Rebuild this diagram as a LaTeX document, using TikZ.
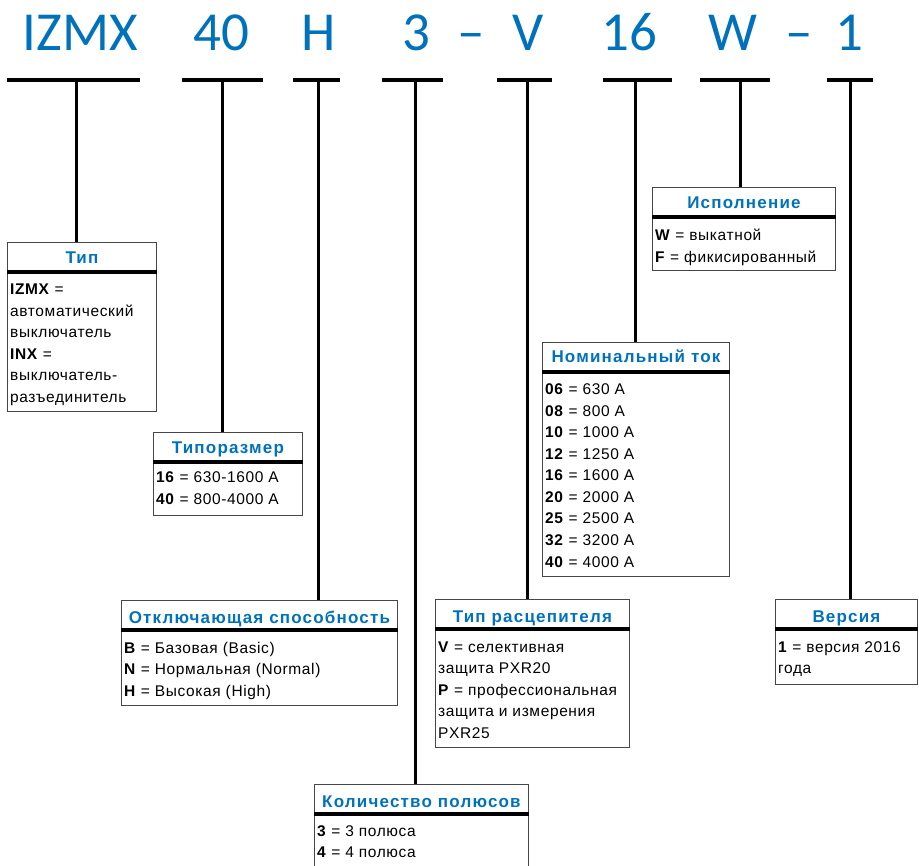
\documentclass[tikz,border=0pt]{standalone}
\usepackage{fontspec}
\setmainfont{Liberation Sans}
\newfontfamily\hdrfont{Carlito}
\newfontfamily\bodyfont[LetterSpace=4]{Liberation Sans}
\newfontfamily\titlefont[LetterSpace=7]{Liberation Sans Bold}
\definecolor{eblue}{RGB}{0,114,188}
\definecolor{boxgray}{RGB}{70,70,70}
\tikzset{
  hdrtxt/.style={font=\hdrfont\fontsize{55}{55}\selectfont, text=eblue, anchor=base, inner sep=0pt},
  bar/.style={line width=4pt},
  conn/.style={line width=3pt},
  box/.style={draw=boxgray, line width=0.9pt, anchor=north west, inner sep=0pt},
  sepline/.style={line width=4.5pt},
  ttl/.style={font=\titlefont\fontsize{17}{17}\selectfont, text=eblue, anchor=base, inner sep=0pt},
  txt/.style={font=\bodyfont\fontsize{15.5}{15.5}\selectfont, anchor=base west, inner sep=0pt},
}
\begin{document}
\begin{tikzpicture}[x=1pt,y=-1pt]
\clip (0,0) rectangle (919,866);
\useasboundingbox (0,0) rectangle (919,866);

% header
\node[hdrtxt] (hIZ) at (80.5,51) {IZMX};
\node[hdrtxt] (h40) at (221.5,51) {40};
\node[hdrtxt] (hH) at (319,51) {H};
\node[hdrtxt] (h3) at (416.5,51) {3};
\node[hdrtxt] (hd1) at (471,51) {–};
\node[hdrtxt] (hV) at (528.5,51) {V};
\node[hdrtxt] (h16) at (629,51) {16};
\node[hdrtxt] (hW) at (732.5,51) {W};
\node[hdrtxt] (hd2) at (799,51) {–};
\node[hdrtxt] (h1) at (849,51) {1};

% bars
\coordinate (aL) at (7,80);   \coordinate (aR) at (140,80);  \coordinate (aC) at (76,80);
\coordinate (bL) at (182,80); \coordinate (bR) at (263,80);  \coordinate (bC) at (222,80);
\coordinate (cL) at (293,80); \coordinate (cR) at (340,80);  \coordinate (cC) at (318,80);
\coordinate (dL) at (382,80); \coordinate (dR) at (443,80);  \coordinate (dC) at (415,80);
\coordinate (eL) at (497,80); \coordinate (eR) at (552,80);  \coordinate (eC) at (527,80);
\coordinate (fL) at (603,80); \coordinate (fR) at (672,80);  \coordinate (fC) at (635,80);
\coordinate (gL) at (700,80); \coordinate (gR) at (770,80);  \coordinate (gC) at (740,80);
\coordinate (kL) at (827,80); \coordinate (kR) at (873,80);  \coordinate (kC) at (850,80);
\foreach \p in {a,b,c,d,e,f,g,k} {\draw[bar] (\p L) -- (\p R);}

% boxes
\node[box, minimum width=149pt, minimum height=169.5pt] (tip) at (7,242) {};
\node[box, minimum width=149pt, minimum height=83.5pt] (razm) at (153,432) {};
\node[box, minimum width=276pt, minimum height=105pt] (otkl) at (121,600) {};
\node[box, minimum width=214pt, minimum height=90pt] (kol) at (314,784) {};
\node[box, minimum width=194pt, minimum height=148pt] (rasc) at (435,599) {};
\node[box, minimum width=187pt, minimum height=234pt] (nom) at (542,342) {};
\node[box, minimum width=183pt, minimum height=83.5pt] (isp) at (652,187) {};
\node[box, minimum width=142pt, minimum height=85pt] (vers) at (775,599) {};

\foreach \b in {tip,razm,otkl,kol,rasc,nom,isp,vers} {
  \draw[sepline] ([yshift=-30pt]\b.north west) -- ([yshift=-30pt]\b.north east);
}

% connectors
\draw[conn] (aC) -- (aC |- tip.north);
\draw[conn] (bC) -- (bC |- razm.north);
\draw[conn] (cC) -- (cC |- otkl.north);
\draw[conn] (dC) -- (dC |- kol.north);
\draw[conn] (eC) -- (eC |- rasc.north);
\draw[conn] (fC) -- (fC |- nom.north);
\draw[conn] (gC) -- (gC |- isp.north);
\draw[conn] (kC) -- (kC |- vers.north);

% titles
\node[ttl] (tTip) at ([yshift=-22pt]tip.north) {Тип};
\node[ttl] (tRazm) at ([yshift=-22pt]razm.north) {Типоразмер};
\node[ttl] (tOtkl) at ([yshift=-23pt]otkl.north) {Отключающая способность};
\node[ttl] (tKol) at ([yshift=-23pt]kol.north) {Количество полюсов};
\node[ttl] (tRasc) at ([yshift=-23pt]rasc.north) {Тип расцепителя};
\node[ttl] (tNom) at ([yshift=-21pt]nom.north) {Номинальный ток};
\node[ttl] (tIsp) at ([yshift=-22pt]isp.north) {Исполнение};
\node[ttl] (tVers) at ([yshift=-23pt]vers.north) {Версия};

% body texts
\node[txt] (tip1) at (10,295) {\textbf{IZMX} =};
\node[txt] (tip2) at (10,316.5) {автоматический};
\node[txt] (tip3) at (10,338) {выключатель};
\node[txt] (tip4) at (10,359.5) {\textbf{INX} =};
\node[txt] (tip5) at (10,381) {выключатель-};
\node[txt] (tip6) at (10,402.5) {разъединитель};

\node[txt] (rz1) at (156,483) {\textbf{16} = 630-1600 А};
\node[txt] (rz2) at (156,504.5) {\textbf{40} = 800-4000 А};

\node[txt] (ot1) at (124,653) {\textbf{B} = Базовая (Basic)};
\node[txt] (ot2) at (124,674.5) {\textbf{N} = Нормальная (Normal)};
\node[txt] (ot3) at (124,696) {\textbf{H} = Высокая (High)};

\node[txt] (ko1) at (317,836) {\textbf{3} = 3 полюса};
\node[txt] (ko2) at (317,857.5) {\textbf{4} = 4 полюса};

\node[txt] (rc1) at (438,652) {\textbf{V} = селективная};
\node[txt] (rc2) at (438,673.5) {защита PXR20};
\node[txt] (rc3) at (438,695) {\textbf{P} = профессиональная};
\node[txt] (rc4) at (438,716.5) {защита и измерения};
\node[txt] (rc5) at (438,738) {PXR25};

\node[txt] (nm1) at (545,395) {\textbf{06} = 630 А};
\node[txt] (nm2) at (545,416.5) {\textbf{08} = 800 А};
\node[txt] (nm3) at (545,438) {\textbf{10} = 1000 А};
\node[txt] (nm4) at (545,459.5) {\textbf{12} = 1250 А};
\node[txt] (nm5) at (545,481) {\textbf{16} = 1600 А};
\node[txt] (nm6) at (545,502.5) {\textbf{20} = 2000 А};
\node[txt] (nm7) at (545,524) {\textbf{25} = 2500 А};
\node[txt] (nm8) at (545,545.5) {\textbf{32} = 3200 А};
\node[txt] (nm9) at (545,567) {\textbf{40} = 4000 А};

\node[txt] (is1) at (655,241) {\textbf{W} = выкатной};
\node[txt] (is2) at (655,262.5) {\textbf{F} = фикисированный};

\node[txt] (vs1) at (778,652) {\textbf{1} = версия 2016};
\node[txt] (vs2) at (778,673.5) {года};
\end{tikzpicture}
\end{document}
